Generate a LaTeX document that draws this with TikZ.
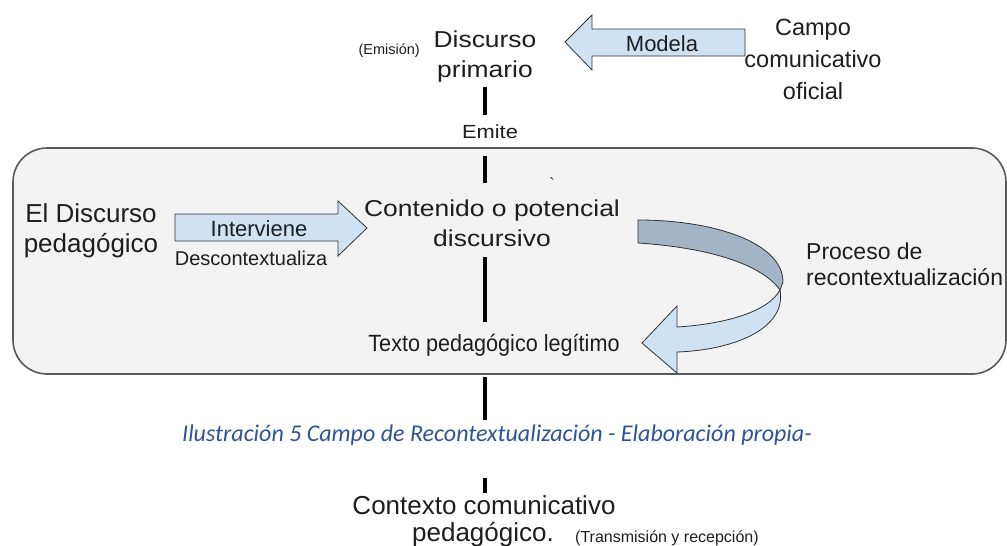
\documentclass[tikz,border=0pt]{standalone}
\usepackage{fontspec}
\setmainfont{Liberation Sans}
\newfontfamily\stretchfont{Liberation Sans}[FakeStretch=1.15]
\newfontfamily\narrowfont{Liberation Sans}[FakeStretch=0.92]
\newfontfamily\capfont{Carlito}
\usetikzlibrary{calc}
\definecolor{boxfill}{HTML}{F3F3F3}
\definecolor{boxline}{HTML}{595959}
\definecolor{arrowfill}{HTML}{CFE2F3}
\definecolor{darkband}{HTML}{A2B4C6}
\definecolor{capblue}{HTML}{2F5496}
\definecolor{txt}{HTML}{1E1E1E}
\begin{document}
\begin{tikzpicture}[x=1pt,y=-1pt,
  lbl/.style={inner sep=0pt, text=txt, align=center},
  vline/.style={line width=3.6pt, black},
  blockarrow/.style={fill=arrowfill, draw=black!80, line width=0.8pt, line join=miter},
  bandarrow/.style={draw=black!80, line width=0.8pt, line join=miter},
]
\useasboundingbox (0,0) rectangle (1007,546);
\fill[white] (0,0) rectangle (1007,546);
% main frame
\draw[fill=boxfill, draw=boxline, line width=1.6pt, rounded corners=34pt] (13,148) rectangle (1006,374);

% text nodes
\node[lbl, font=\stretchfont\fontsize{23}{30}\selectfont] (dp) at (485,57) {Discurso\\primario};
\node[lbl, font=\fontsize{14.5}{16}\selectfont, anchor=east] (emision) at (420,51) {(Emisión)};
\node[lbl, font=\stretchfont\fontsize{19}{22}\selectfont] (emite) at (490,132) {Emite};
\node[lbl, font=\fontsize{23.5}{32}\selectfont] (campo) at (813,59) {Campo\\comunicativo\\oficial};
\node[lbl, font=\fontsize{26}{30}\selectfont] (eldp) at (91,231) {El Discurso\\pedagógico};
\node[lbl, font=\stretchfont\fontsize{23}{30}\selectfont] (cont) at (492,223) {Contenido o potencial\\discursivo};
\node[lbl, font=\narrowfont\fontsize{23.5}{26}\selectfont] (texto) at (494,345) {Texto pedagógico legítimo};
\node[lbl, font=\fontsize{23}{26}\selectfont, align=left, anchor=west] (proc) at (806,264) {Proceso de\\recontextualización};
\node[lbl, font=\fontsize{16}{16}\selectfont] (tick) at (552,184) {\textasciigrave};
\node[lbl, font=\capfont\itshape\fontsize{24}{28}\selectfont, text=capblue, anchor=west] (cap) at (182,435) {Ilustración 5 Campo de Recontextualización - Elaboración propia-};
\node[lbl, font=\fontsize{26}{30}\selectfont] (ctx1) at (484,505) {Contexto comunicativo};
\node[lbl, font=\fontsize{26}{30}\selectfont] (ctx2) at (483,535) {pedagógico.};
\node[lbl, font=\fontsize{16}{18}\selectfont, anchor=west] (trans) at (575,538) {(Transmisión y recepción)};

% block arrow: Campo -> Discurso primario
\draw[blockarrow] (745,29) -- (592,29) -- (592,15) -- (565,42) -- (592,70) -- (592,56) -- (745,56) -- cycle;
\node[lbl, font=\fontsize{22}{24}\selectfont] (modela) at (662,44) {Modela};

% block arrow: El Discurso pedagogico -> Contenido
\draw[blockarrow] (175,214) -- (338,214) -- (338,201) -- (367,228) -- (338,256) -- (338,241) -- (175,241) -- cycle;
\node[lbl, font=\fontsize{22}{24}\selectfont] (interv) at (259,229) {Interviene};
\node[lbl, font=\fontsize{20}{22}\selectfont] (descon) at (251,258) {Descontextualiza};

% curved recontextualisation arrow
\draw[bandarrow, fill=arrowfill] (780,290) .. controls (787,328) and (735,350) .. (677,352) -- (677,373) -- (642,343) -- (677,306) -- (677,327) .. controls (725,324) and (768,312) .. (780,290) -- cycle;
\draw[bandarrow, fill=darkband] (638,220) .. controls (715,220) and (783,243) .. (783,282) -- (780,290) .. controls (762,265) and (712,248) .. (638,243) -- cycle;

% vertical connectors
\coordinate (lx) at (485,0);
\draw[vline] ([yshift=-4pt]dp.south -| lx) -- ([yshift=10pt]emite.north -| lx);
\draw[vline] ([yshift=-17pt]emite.south -| lx) -- ([yshift=16pt]cont.north -| lx);
\draw[vline] ([yshift=-10pt]cont.south -| lx) -- ([yshift=12pt]texto.north -| lx);
\draw[vline] ([yshift=-21pt]texto.south -| lx) -- ([yshift=5pt]cap.north -| lx);
\draw[vline] ([yshift=-33pt]cap.south -| lx) -- ([yshift=2pt]ctx1.north -| lx);
\end{tikzpicture}
\end{document}
